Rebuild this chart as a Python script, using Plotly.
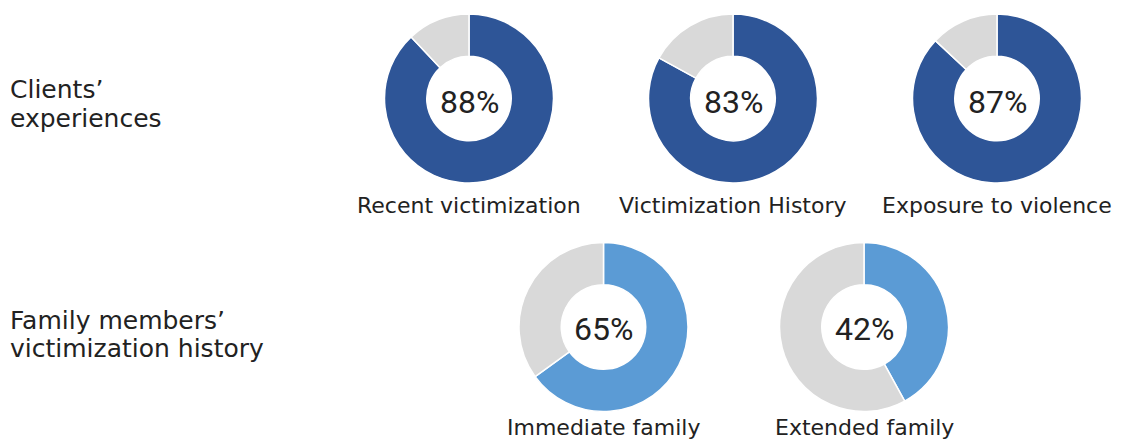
import plotly.graph_objects as go

W, H = 1135, 443

categories = ["Recent victimization", "Victimization History", "Exposure to violence",
              "Immediate family", "Extended family"]
values = [88, 83, 87, 65, 42]
pct_labels = ["88%", "83%", "87%", "65%", "42%"]
groups = ["Clients", "Clients", "Clients", "Family", "Family"]
group_lines = [["Clients’", "experiences"], ["Family members’", "victimization history"]]

colors = {"Clients": "#2E5597", "Family": "#5B9BD5"}
rest_color = "#D9D9D9"
text_color = "#222222"

# layout positions (pixels)
centers = [(469, 98.5), (733, 98.5), (997, 98.5), (603.5, 327), (864, 327)]
pct_dy = [3.5, 3.5, 3.5, 1.5, 1.5]
label_y = [205, 205, 205, 427.5, 427.5]
R = 84.5
LABEL_FONT = "DejaVu Sans"
PCT_FONT = "Roboto"

fig = go.Figure()
annotations = []
for i, (cat, v) in enumerate(zip(categories, values)):
    cx, cy = centers[i]
    x0, x1 = (cx - R) / W, (cx + R) / W
    y0, y1 = 1 - (cy + R) / H, 1 - (cy - R) / H
    fig.add_trace(go.Pie(
        values=[v, 100 - v],
        labels=[cat, "Other"],
        sort=False,
        direction="clockwise",
        rotation=0,
        hole=0.5,
        textinfo="none",
        hoverinfo="label+value",
        marker=dict(colors=[colors[groups[i]], rest_color],
                    line=dict(color="white", width=1.5)),
        domain=dict(x=[x0, x1], y=[y0, y1]),
        showlegend=False,
    ))
    annotations.append(dict(x=cx / W, y=1 - (cy + pct_dy[i]) / H, xref="paper", yref="paper",
                            text=pct_labels[i], showarrow=False,
                            font=dict(family=PCT_FONT, size=32, color=text_color),
                            xanchor="center", yanchor="middle"))
    annotations.append(dict(x=cx / W, y=1 - label_y[i] / H, xref="paper", yref="paper",
                            text=cat, showarrow=False,
                            font=dict(family=LABEL_FONT, size=22, color=text_color),
                            xanchor="center", yanchor="middle"))

group_line_y = [[90, 118], [320.5, 348.5]]
for lines, ys in zip(group_lines, group_line_y):
    for txt, gy in zip(lines, ys):
        annotations.append(dict(x=8 / W, y=1 - gy / H, xref="paper", yref="paper",
                                text=txt, showarrow=False, align="left",
                                font=dict(family=LABEL_FONT, size=25, color=text_color),
                                xanchor="left", yanchor="middle"))

fig.update_layout(
    width=W, height=H,
    margin=dict(l=0, r=0, t=0, b=0),
    paper_bgcolor="white", plot_bgcolor="white",
    annotations=annotations,
)

fig.write_html("out.html", config={"displayModeBar": False},
               post_script="document.body.style.margin='0px';")
